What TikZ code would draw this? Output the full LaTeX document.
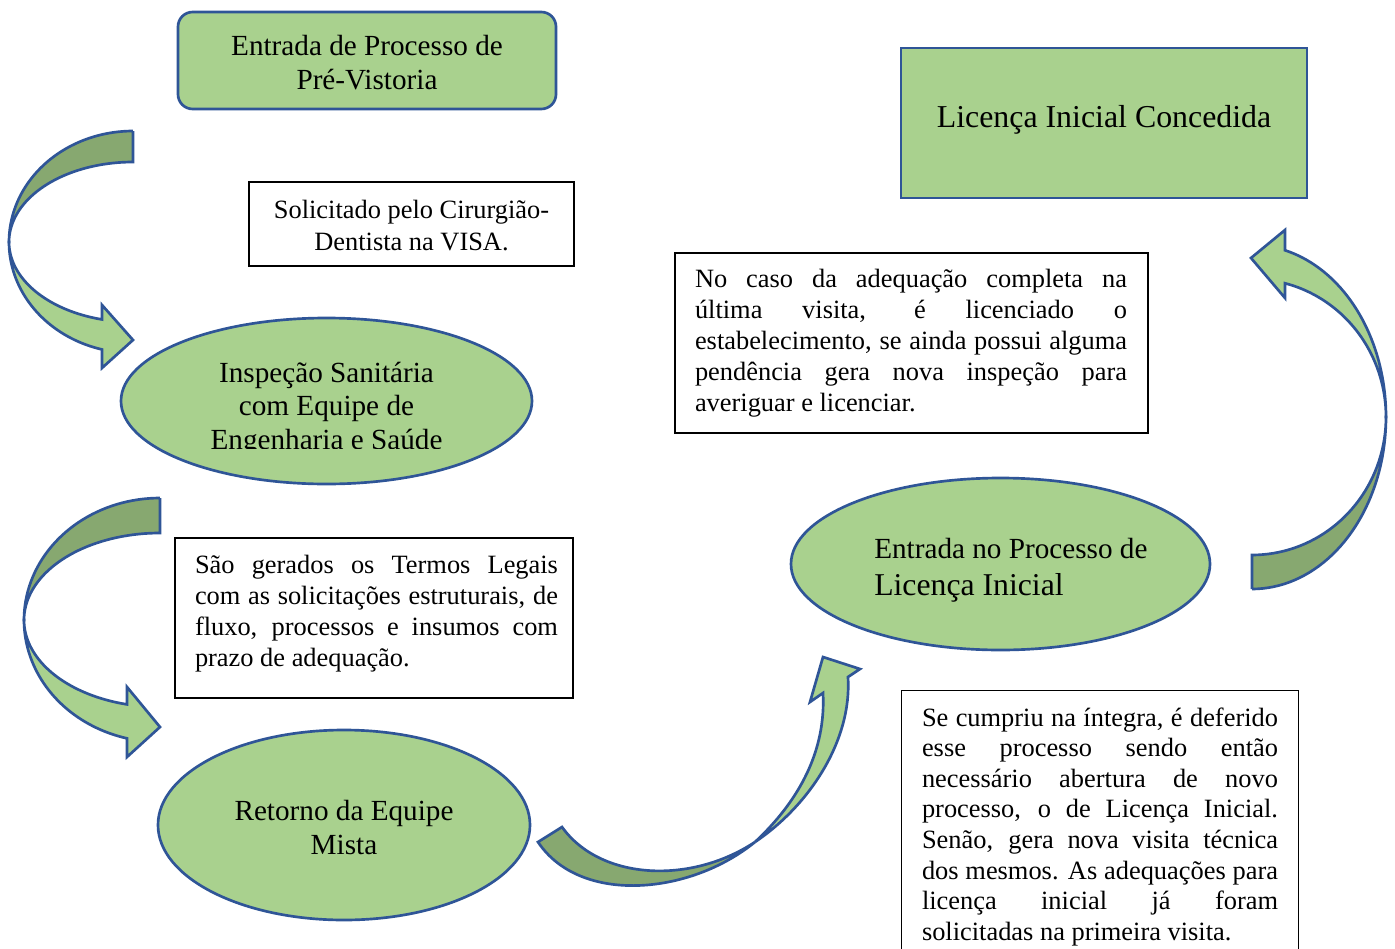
\documentclass[tikz,border=0pt]{standalone}
\usepackage{fontspec}
\setmainfont{Liberation Serif}
\usetikzlibrary{shapes.geometric,calc}
\definecolor{lightg}{RGB}{169,209,142}
\definecolor{darkg}{RGB}{135,168,112}
\definecolor{outl}{RGB}{47,85,151}
\begin{document}
\begin{tikzpicture}[x=0.75pt,y=-0.75pt,
  greenshape/.style={fill=lightg,draw=outl,line width=2pt},
  oval/.style={greenshape,ellipse,inner sep=0pt},
  tbox/.style={draw=black,line width=1.1pt,fill=white,inner sep=0pt},
  arrowlight/.style={fill=lightg,draw=outl,line width=2pt,line join=miter},
  arrowdark/.style={fill=darkg,draw=outl,line width=2pt,line join=miter},
  plain/.style={inner sep=0pt,text=black},
  jtext/.style={plain,align=justify}
]
\path[use as bounding box,fill=white] (0,0) rectangle (1395,949);
\clip (0,0) rectangle (1395,949);

% ---------- shapes ----------
\node[greenshape,rectangle,rounded corners=11pt,minimum width={378*0.75pt},minimum height={97*0.75pt}] (b1) at (367,60.5) {};
\node[greenshape,rectangle,minimum width={406*0.75pt},minimum height={150*0.75pt}] (b2) at (1104,123) {};
\node[oval,minimum width={411*0.75pt},minimum height={166*0.75pt}] (e1) at (326.5,401) {};
\node[oval,minimum width={419*0.75pt},minimum height={172*0.75pt}] (e2) at (1000.5,564) {};
\node[oval,minimum width={372*0.75pt},minimum height={190*0.75pt}] (e3) at (344,825) {};

\node[tbox,minimum width={325*0.75pt},minimum height={84*0.75pt}] (t1) at (411.5,224) {};
\node[tbox,minimum width={473*0.75pt},minimum height={180*0.75pt}] (t2) at (911.5,343) {};
\node[tbox,minimum width={398*0.75pt},minimum height={160*0.75pt}] (t3) at (374,618) {};
\node[tbox,anchor=north west,minimum width={397*0.75pt},minimum height={320*0.75pt}] (t4) at (901,690) {};

% ---------- curved arrows ----------
% arrow A (top left)
\draw[arrowdark] (133,131) -- (133,162)
  -- plot[domain=270:180,samples=40] ({133+124*cos(\x)},{242+80*sin(\x)})
  -- plot[domain=180:270,samples=40] ({133+124*cos(\x)},{242+111*sin(\x)}) -- cycle;
\draw[arrowlight] (9,242)
  -- plot[domain=180:104.5,samples=40] ({133+124*cos(\x)},{242+80*sin(\x)})
  -- (102,305) -- (133,340) -- (102,368)
  -- plot[domain=104.5:180,samples=40] ({133+124*cos(\x)},{242+111*sin(\x)}) -- cycle;

% arrow B (middle left)
\draw[arrowdark] (160,498) -- (160,533)
  -- plot[domain=270:180,samples=40] ({160+136*cos(\x)},{620+87*sin(\x)})
  -- plot[domain=180:270,samples=40] ({160+136*cos(\x)},{620+122*sin(\x)}) -- cycle;
\draw[arrowlight] (24,620)
  -- plot[domain=180:104.04,samples=40] ({160+136*cos(\x)},{620+87*sin(\x)})
  -- (127,687) -- (160,727) -- (127,757)
  -- plot[domain=104.04:180,samples=40] ({160+136*cos(\x)},{620+122*sin(\x)}) -- cycle;

% arrow C (bottom)
\draw[arrowdark] (538,842) -- (562,827) .. controls (600,880) and (690,885) .. (755,842)
  .. controls (690,895) and (580,905) .. (538,842) -- cycle;
\draw[arrowlight] (755,842) .. controls (810,805) and (852,740) .. (848,677)
  -- (860,669) -- (823,657) -- (810,702) -- (823,693)
  .. controls (826,750) and (800,800) .. (755,842) -- cycle;

% arrow D (right)
\draw[arrowdark] (1252,589) -- (1252,555)
  -- plot[domain=90:0,samples=40] ({1252+134*cos(\x)},{417+138*sin(\x)})
  -- plot[domain=0:90,samples=40] ({1252+134*cos(\x)},{417+172*sin(\x)}) -- cycle;
\draw[arrowlight] (1386,417)
  -- plot[domain=0:-75.76,samples=40] ({1252+134*cos(\x)},{417+138*sin(\x)})
  -- (1285,298) -- (1251,258) -- (1285,230)
  -- plot[domain=-75.76:0,samples=40] ({1252+134*cos(\x)},{417+172*sin(\x)}) -- cycle;

% ---------- texts ----------
\node[plain,align=center,font=\fontsize{21.9pt}{25.5pt}\selectfont] (b1t) at (367,65.5)
  {\strut Entrada de Processo de\\Pré-Vistoria\strut};
\node[plain,anchor=base,font=\fontsize{23.9pt}{28pt}\selectfont] (b2t) at (1104,127.7)
  {Licença Inicial Concedida};

\begin{scope}
\clip (0,0) rectangle (1395,448.5);
\node[plain,align=center,font=\fontsize{21.9pt}{25.1pt}\selectfont] (e1t) at (326.5,409.3)
  {\strut Inspeção Sanitária\\com Equipe de\\Engenharia e Saúde\strut};
\end{scope}

\node[plain,anchor=base west,font=\fontsize{21.9pt}{25.5pt}\selectfont] (e2ta) at (874,558.7)
  {Entrada no Processo de};
\node[plain,anchor=base west,font=\fontsize{23.8pt}{28pt}\selectfont] (e2tb) at (874,595.5)
  {Licença Inicial};

\node[plain,align=center,font=\fontsize{21.9pt}{25.3pt}\selectfont] (e3t) at (344,830.6)
  {\strut Retorno da Equipe\\Mista\strut};

\node[plain,align=center,font=\fontsize{19.8pt}{24pt}\selectfont] (t1t) at (411.5,227.6)
  {\strut Solicitado pelo Cirurgião-\\Dentista na VISA.\strut};

\node[jtext,text width={432*0.75pt},font=\fontsize{19.8pt}{23.25pt}\selectfont] (t2t) at (911,342.8)
  {\noindent\hyphenpenalty=10000\exhyphenpenalty=10000\strut No caso da adequação completa na\linebreak
   última visita, é licenciado o\linebreak
   estabelecimento, se ainda possui alguma\linebreak
   pendência gera nova inspeção para\linebreak
   averiguar e licenciar.\strut};

\node[jtext,text width={363*0.75pt},font=\fontsize{19.8pt}{23.25pt}\selectfont] (t3t) at (376.5,613.3)
  {\noindent\hyphenpenalty=10000\exhyphenpenalty=10000\strut São gerados os Termos Legais\linebreak
   com as solicitações estruturais, de\linebreak
   fluxo, processos e insumos com\linebreak
   prazo de adequação.\strut};

\node[jtext,text width={356*0.75pt},font=\fontsize{19.8pt}{22.95pt}\selectfont] (t4t) at (1100,827)
  {\noindent\hyphenpenalty=10000\exhyphenpenalty=10000\strut Se cumpriu na íntegra, é deferido\linebreak
   esse processo sendo então\linebreak
   necessário abertura de novo\linebreak
   processo, o de Licença Inicial.\linebreak
   Senão, gera nova visita técnica\linebreak
   dos mesmos. As adequações para\linebreak
   licença inicial já foram\linebreak
   solicitadas na primeira visita.\strut};
\end{tikzpicture}
\end{document}
